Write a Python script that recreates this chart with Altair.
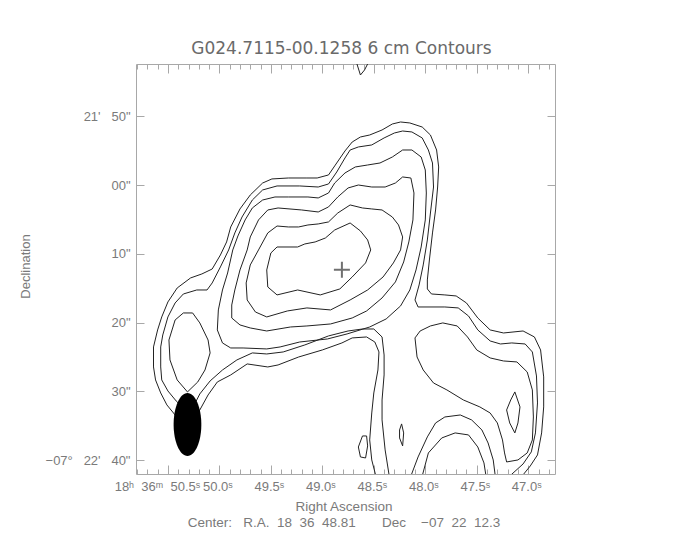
import json
import altair as alt
import pandas as pd

W, H = 419, 410
NB = "\u00a0"

TITLE = "G024.7115-00.1258 6 cm Contours"
X_TITLE = "Right Ascension"
CENTER_LINE = ("Center:" + NB * 3 + "R.A." + NB * 2 + "18" + NB * 2 + "36" + NB * 2 + "48.81"
               + NB * 7 + "Dec" + NB * 4 + "\u221207" + NB * 2 + "22" + NB * 2 + "12.3")
Y_TITLE = "Declination"

# axis ticks / labels (RA in seconds of time, Dec in arcsec past -07 21 00)
ra_major = [50.5, 50.0, 49.5, 49.0, 48.5, 48.0, 47.5, 47.0]
ra_labels = ["18\u02b0" + NB * 2 + "36\u1d50" + NB * 2 + "50.5\u02e2", "50.0\u02e2", "49.5\u02e2",
             "49.0\u02e2", "48.5\u02e2", "48.0\u02e2", "47.5\u02e2", "47.0\u02e2"]
ra_minor = [50.8, 50.7, 50.6, 50.5, 50.4, 50.3, 50.2, 50.1, 50.0, 49.9, 49.8, 49.7,
            49.6, 49.5, 49.4, 49.3, 49.2, 49.1, 49.0, 48.9, 48.8, 48.7, 48.6, 48.5,
            48.4, 48.3, 48.2, 48.1, 48.0, 47.9, 47.8, 47.7, 47.6, 47.5, 47.4, 47.3,
            47.2, 47.1, 47.0, 46.9, 46.8]
dec_major = [50, 60, 70, 80, 90, 100]
dec_labels = ["21'" + NB * 3 + "50\"", "00\"", "10\"", "20\"", "30\"",
              "\u221207\u00b0" + NB * 3 + "22'" + NB * 3 + "40\""]

ra_domain = [46.74, 50.81]
dec_domain = [42.4, 102.0]

# contour paths: (RA s, Dec arcsec)
lev1 = [(48.48, 102.3), (48.52, 99.96), (48.54, 97.05), (48.52, 93.13), (48.50, 90.22),
        (48.46, 86.88), (48.45, 84.26), (48.49, 82.81), (48.57, 82.08), (48.71, 82.22),
        (48.81, 82.95), (49.00, 83.97), (49.23, 84.99), (49.43, 86.15), (49.53, 86.44),
        (49.73, 86.00), (49.89, 87.60), (50.02, 88.62), (50.11, 90.51), (50.19, 92.69),
        (50.28, 94.43), (50.43, 93.42), (50.51, 91.96), (50.57, 90.22), (50.62, 88.33),
        (50.64, 86.44), (50.64, 83.53), (50.60, 81.06), (50.56, 79.17), (50.50, 76.99),
        (50.41, 74.96), (50.28, 73.50), (50.17, 72.92), (50.07, 72.20), (49.99, 70.16),
        (49.93, 68.27), (49.89, 66.09), (49.80, 63.47), (49.70, 61.44), (49.58, 59.70),
        (49.49, 59.11), (49.33, 58.97), (49.15, 58.97), (49.05, 58.97), (48.94, 58.53),
        (48.88, 57.22), (48.78, 55.04), (48.71, 53.74), (48.63, 53.01), (48.54, 52.72),
        (48.42, 51.99), (48.32, 51.12), (48.24, 50.83), (48.15, 50.97), (48.03, 51.56),
        (47.95, 52.72), (47.89, 54.90), (47.87, 57.37), (47.88, 60.28), (47.90, 63.62),
        (47.93, 66.96), (47.96, 70.89), (47.98, 73.79), (47.98, 75.10), (47.94, 75.83),
        (47.81, 75.97), (47.70, 76.12), (47.60, 77.14), (47.49, 79.32), (47.37, 81.06),
        (47.24, 81.50), (47.05, 81.21), (46.94, 82.08), (46.88, 83.97), (46.85, 87.89),
        (46.85, 92.25), (46.87, 96.03), (46.91, 99.23), (46.98, 100.83), (47.06, 102.3)]

lev2 = [(48.35, 102.3), (48.39, 98.50), (48.42, 94.14), (48.42, 91.24), (48.40, 87.60),
        (48.40, 84.70), (48.42, 82.08), (48.50, 80.92), (48.61, 80.92), (48.75, 81.21),
        (48.94, 81.93), (49.17, 83.24), (49.38, 84.26), (49.54, 84.55), (49.68, 84.40),
        (49.83, 85.42), (49.97, 86.88), (50.09, 88.47), (50.19, 90.36), (50.25, 92.11),
        (50.35, 92.40), (50.42, 91.38), (50.50, 89.93), (50.56, 88.33), (50.57, 86.44),
        (50.57, 83.53), (50.55, 81.79), (50.50, 79.17), (50.43, 77.14), (50.35, 75.83),
        (50.22, 75.25), (50.12, 75.25), (50.07, 74.23), (49.99, 71.90), (49.91, 69.43),
        (49.85, 66.96), (49.78, 64.64), (49.68, 62.17), (49.58, 60.71), (49.44, 60.13),
        (49.22, 60.13), (49.04, 60.28), (48.94, 59.84), (48.86, 58.10), (48.78, 56.06),
        (48.73, 54.90), (48.65, 54.46), (48.52, 54.17), (48.40, 53.15), (48.30, 52.43),
        (48.22, 52.14), (48.13, 52.28), (48.03, 53.15), (47.97, 54.90), (47.93, 56.79),
        (47.92, 60.28), (47.95, 64.06), (47.98, 67.98), (48.02, 71.61), (48.06, 74.52),
        (48.10, 76.70), (48.07, 77.72), (47.81, 77.72), (47.68, 77.86), (47.58, 79.03),
        (47.49, 81.06), (47.37, 82.66), (47.27, 83.10), (47.16, 82.95), (47.03, 83.10),
        (46.96, 84.26), (46.92, 87.75), (46.91, 91.67), (46.93, 96.03), (46.97, 98.79),
        (47.05, 100.54), (47.18, 102.3)]

lev3_main = [(49.87, 69.43), (49.92, 72.78), (49.97, 75.25), (50.01, 78.15), (50.02, 81.06),
             (49.97, 82.95), (49.89, 83.68), (49.77, 83.68), (49.54, 83.82), (49.41, 83.53),
             (49.22, 82.81), (48.95, 82.37), (48.76, 81.64), (48.54, 80.63), (48.38, 79.46),
             (48.24, 77.57), (48.15, 75.25), (48.09, 72.34), (48.04, 69.00), (48.00, 65.07),
             (47.99, 61.15), (48.00, 57.81), (48.04, 55.92), (48.13, 54.90), (48.22, 54.90),
             (48.32, 55.92), (48.44, 56.79), (48.56, 57.08), (48.68, 57.37), (48.78, 58.24),
             (48.88, 59.70), (48.94, 61.15), (49.04, 61.87), (49.14, 61.73), (49.33, 61.73),
             (49.46, 61.73), (49.58, 62.17), (49.68, 63.33), (49.75, 65.07), (49.82, 67.40),
             (49.87, 69.43)]

lev4_main = [(49.53, 63.62), (49.43, 63.33), (49.20, 63.62), (49.04, 63.91), (48.94, 63.18),
             (48.85, 61.73), (48.75, 60.42), (48.65, 59.99), (48.52, 60.28), (48.39, 60.28),
             (48.29, 59.70), (48.22, 58.82), (48.14, 58.97), (48.11, 61.15), (48.12, 65.07),
             (48.16, 68.27), (48.21, 71.18), (48.29, 74.08), (48.42, 76.41), (48.57, 78.30),
             (48.71, 79.32), (48.92, 80.19), (49.15, 80.48), (49.31, 80.63), (49.54, 81.21),
             (49.70, 80.77), (49.80, 80.33), (49.88, 79.32), (49.88, 77.43), (49.85, 75.25),
             (49.80, 72.34), (49.73, 69.43), (49.70, 67.54), (49.62, 65.07), (49.53, 63.62)]

lev5_main = [(49.44, 65.95), (49.33, 66.09), (49.23, 66.09), (49.14, 65.80), (49.04, 65.65),
             (48.94, 65.36), (48.85, 64.06), (48.73, 62.89), (48.61, 63.33), (48.52, 63.47),
             (48.42, 63.62), (48.32, 64.64), (48.26, 65.80), (48.22, 67.54), (48.24, 69.43),
             (48.31, 71.32), (48.41, 73.36), (48.56, 75.25), (48.73, 76.70), (48.92, 78.15),
             (49.15, 77.86), (49.34, 78.30), (49.54, 79.17), (49.65, 78.45), (49.73, 76.70),
             (49.74, 74.23), (49.70, 71.61), (49.62, 69.43), (49.53, 66.96), (49.44, 65.95)]

lev6_main = [(49.44, 69.00), (49.24, 69.00), (49.17, 68.56), (49.07, 68.27), (48.97, 67.69),
             (48.88, 66.53), (48.73, 65.51), (48.63, 66.67), (48.56, 67.98), (48.53, 69.43),
             (48.58, 71.32), (48.71, 73.36), (48.83, 75.10), (49.02, 75.97), (49.24, 75.25),
             (49.44, 75.97), (49.53, 74.81), (49.54, 72.34), (49.50, 69.87), (49.44, 69.00)]

lev3_left = [(50.31, 90.07), (50.41, 88.33), (50.48, 85.42), (50.49, 82.52), (50.43, 79.61),
             (50.35, 78.59), (50.26, 78.59), (50.19, 80.04), (50.11, 82.52), (50.09, 84.40),
             (50.14, 86.88), (50.21, 88.62), (50.31, 90.07)]

lev3_right = [(48.10, 82.22), (48.05, 81.21), (47.95, 80.48), (47.83, 80.04), (47.69, 80.48),
              (47.59, 82.08), (47.50, 83.97), (47.37, 85.13), (47.24, 85.57), (47.11, 85.71),
              (47.01, 87.17), (46.96, 89.78), (46.95, 93.71), (46.96, 97.05), (47.01, 98.94),
              (47.10, 99.96), (47.21, 100.25), (47.23, 98.94), (47.25, 97.05), (47.30, 94.58),
              (47.37, 93.13), (47.47, 92.25), (47.63, 91.24), (47.79, 89.78), (47.92, 88.77),
              (48.02, 86.88), (48.08, 84.99), (48.10, 82.22)]

lev4_right = [(47.13, 90.07), (47.08, 92.25), (47.10, 94.58), (47.13, 96.03), (47.18, 94.58),
              (47.21, 92.69), (47.17, 91.24), (47.13, 90.07)]

lev3_arch = [(48.14, 102.3), (48.07, 99.52), (47.98, 96.61), (47.90, 94.58), (47.81, 93.71),
             (47.66, 93.42), (47.55, 94.14), (47.45, 95.60), (47.39, 97.49), (47.34, 99.96),
             (47.32, 102.3)]

lev4_arch = [(48.03, 102.3), (47.97, 98.94), (47.84, 96.76), (47.71, 96.03), (47.58, 96.32),
             (47.49, 98.07), (47.43, 100.39), (47.41, 102.3)]

islet_a = [(48.65, 98.07), (48.61, 96.47), (48.57, 96.47), (48.56, 97.92), (48.58, 99.67),
           (48.63, 99.52), (48.65, 98.07)]

islet_b = [(48.23, 94.72), (48.21, 96.03), (48.22, 97.92), (48.25, 96.76), (48.25, 95.60),
           (48.23, 94.72)]

top_edge = [(48.67, 42.1), (48.63, 44.0), (48.59, 43.27), (48.55, 42.1)]

beam_ra, beam_dec = [50.31], [94.79]
peak_ra, peak_dec = [48.81], [72.3]

contours = {
    "lev1": lev1, "lev2": lev2, "lev3_main": lev3_main, "lev4_main": lev4_main,
    "lev5_main": lev5_main, "lev6_main": lev6_main, "lev3_left": lev3_left,
    "lev3_right": lev3_right, "lev4_right": lev4_right, "lev3_arch": lev3_arch,
    "lev4_arch": lev4_arch, "islet_a": islet_a, "islet_b": islet_b, "top_edge": top_edge,
}
rows = []
for name, pts in contours.items():
    for i, (r, d) in enumerate(pts):
        rows.append({"c": name, "i": i, "ra": r, "dec": d})
df = pd.DataFrame(rows)
beam_df = pd.DataFrame({"ra": beam_ra, "dec": beam_dec})
peak_df = pd.DataFrame({"ra": peak_ra, "dec": peak_dec})


def label_expr(values, labels):
    expr = "''"
    for v, l in reversed(list(zip(values, labels))):
        expr = f"abs(datum.value - {v}) < 0.001 ? {json.dumps(l, ensure_ascii=False)} : ({expr})"
    return expr


FONT = "Liberation Sans"
TXT = "#7a7a7a"
FRAME = "#a8a8a8"

xs = alt.Scale(domain=ra_domain, reverse=True, nice=False, zero=False)
ys = alt.Scale(domain=dec_domain, reverse=True, nice=False, zero=False)

x_label_axis = alt.Axis(
    orient="bottom", values=ra_major, labelExpr=label_expr(ra_major, ra_labels),
    ticks=False, tickSize=0, domain=False, grid=False, labelPadding=6,
    labelFont=FONT, labelFontSize=13, labelColor=TXT,
    labelOffset={"condition": {"test": "datum.value > 50.4", "value": -11}, "value": -2},
    labelOverlap=False, labelFlush=False,
    title=[X_TITLE, CENTER_LINE], titleFont=FONT, titleFontSize=13.5,
    titleFontWeight="normal", titleColor=TXT, titleX=W / 2 - 2, titleY=25,
    titleBaseline="top", titleLineHeight=16,
)
y_label_axis = alt.Axis(
    orient="left", values=dec_major, labelExpr=label_expr(dec_major, dec_labels),
    ticks=False, tickSize=0, domain=False, grid=False, labelPadding=6,
    labelFont=FONT, labelFontSize=13, labelColor=TXT, labelOverlap=False,
    labelFlush=False, labelBaseline="middle",
    title=Y_TITLE, titleFont=FONT, titleFontSize=13, titleFontWeight="normal",
    titleColor=TXT, titleX=-111, titleY=202, titleBaseline="middle", titleAngle=270,
)
major_test = "abs(datum.value * 2 - round(datum.value * 2)) < 0.001"
x_tick_size = {"condition": {"test": major_test, "value": 9}, "value": 5}

x_ticks_at_bottom = alt.Axis(orient="top", offset=-H, values=ra_minor, labels=False,
                             domain=False, grid=False, title=None, tickSize=x_tick_size,
                             tickColor=FRAME, tickWidth=1)
x_ticks_at_top = alt.Axis(orient="bottom", offset=-H, values=ra_minor, labels=False,
                          domain=False, grid=False, title=None, tickSize=x_tick_size,
                          tickColor=FRAME, tickWidth=1)
y_ticks_at_left = alt.Axis(orient="right", offset=-W, values=dec_major, labels=False,
                           domain=False, grid=False, title=None, tickSize=8,
                           tickColor=FRAME, tickWidth=1)
y_ticks_at_right = alt.Axis(orient="left", offset=-W, values=dec_major, labels=False,
                            domain=False, grid=False, title=None, tickSize=8,
                            tickColor=FRAME, tickWidth=1)

lines = alt.Chart(df).mark_line(color="#222222", strokeWidth=1, clip=True).encode(
    x=alt.X("ra:Q", scale=xs, axis=x_label_axis),
    y=alt.Y("dec:Q", scale=ys, axis=y_label_axis),
    detail="c:N",
    order="i:Q",
)

ELLIPSE = "M-0.44,0A0.44,1,0,1,0,0.44,0A0.44,1,0,1,0,-0.44,0Z"
beam = alt.Chart(beam_df).mark_point(shape=ELLIPSE, filled=True, size=63 * 63,
                                     color="black", opacity=1).encode(
    x=alt.X("ra:Q", scale=xs, axis=x_ticks_at_bottom),
    y=alt.Y("dec:Q", scale=ys, axis=y_ticks_at_left),
)

CROSS = "M-1,0L1,0M0,-1L0,1"
peak = alt.Chart(peak_df).mark_point(shape=CROSS, filled=False, size=256,
                                     color="#707070", strokeWidth=2, opacity=1).encode(
    x=alt.X("ra:Q", scale=xs, axis=x_ticks_at_top),
    y=alt.Y("dec:Q", scale=ys, axis=y_ticks_at_right),
)

chart = (
    alt.layer(lines, beam, peak)
    .resolve_axis(x="independent", y="independent")
    .properties(
        width=W, height=H,
        title=alt.TitleParams(text=TITLE, font="DejaVu Sans", fontSize=17,
                              fontWeight="normal", color="#6a6a6a", anchor="middle",
                              frame="group", offset=6, dx=-4),
        autosize=alt.AutoSizeParams(type="none"),
        padding={"left": 128, "top": 56, "right": 121, "bottom": 58},
    )
    .configure_view(stroke=FRAME, strokeWidth=1)
)

chart.save("out.html", embed_options={"renderer": "svg", "actions": False})
